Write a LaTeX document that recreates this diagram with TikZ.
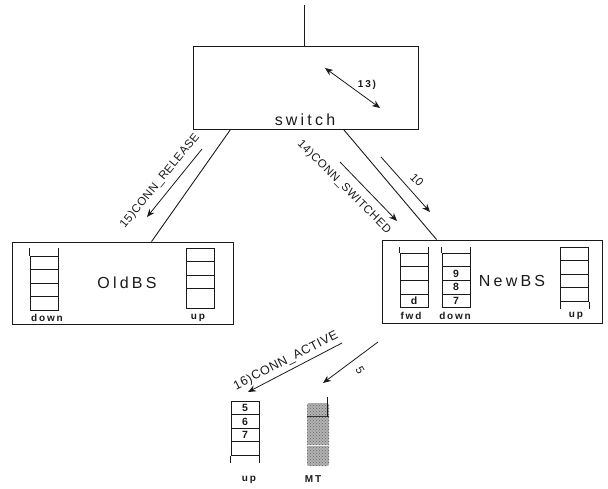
\documentclass[tikz,border=0pt]{standalone}
\usepackage{fontspec}
\setmainfont{Liberation Sans}
\newfontfamily\widefont[LetterSpace=20]{Liberation Sans}
\newfontfamily\tagfont[LetterSpace=18]{Liberation Sans}
\newfontfamily\msgfont[LetterSpace=5]{Liberation Sans}
\usetikzlibrary{arrows.meta, calc, patterns}
\definecolor{inkblack}{HTML}{1A1A1A}

\begin{document}
\begin{tikzpicture}[
  x=1pt, y=-1pt,
  color=inkblack,
  box/.style={rectangle, draw=inkblack, line width=0.9pt, inner sep=0pt},
  cell/.style={rectangle, draw=inkblack, line width=0.8pt, minimum width=28pt, minimum height=13.6pt, inner sep=0pt, font=\fontsize{10.5}{10.5}\selectfont\bfseries},
  rail/.style={draw=inkblack, line width=0.8pt},
  link/.style={draw=inkblack, line width=0.9pt},
  arr/.style={-{Stealth[length=8pt,width=6.5pt]}, line width=0.8pt, color=inkblack},
  title/.style={font=\fontsize{16}{16}\selectfont\widefont},
  tag/.style={font=\fontsize{10}{10}\selectfont\tagfont\bfseries, inner sep=0pt},
  msg/.style={font=\fontsize{11.5}{12}\selectfont\msgfont, inner sep=0pt},
]
\useasboundingbox (0,0) rectangle (608,488);

% --- switch ---
\node[box, minimum width=225pt, minimum height=83pt] (switch) at (305.5,87.5) {};
\node[title] (swname) at (305,120) {switch};
\coordinate (uplink) at (304,5);
\draw[link] (uplink) -- (uplink |- switch.north);
\coordinate (int1) at (325,68);
\coordinate (int2) at (380,108);
\draw[{Stealth[length=8pt,width=6.5pt]}-{Stealth[length=8pt,width=6.5pt]}, line width=0.8pt] (int1) -- (int2);
\node[tag] (int) at (367,85) {13)};

% --- base stations ---
\node[box, minimum width=221pt, minimum height=82pt] (oldbs) at (122.5,283) {};
\node[box, minimum width=220pt, minimum height=83pt] (newbs) at (492,281.5) {};
\node[title] (oldname) at (127,283) {OldBS};
\node[title] (newname) at (512,281) {NewBS};

% --- links ---
\draw[link] ([xshift=38pt]switch.south west) -- ([xshift=140pt]oldbs.north west);
\draw[link] ([xshift=151pt]switch.south west) -- ([xshift=55pt]newbs.north west);

% --- old queues ---
\foreach \y [count=\i] in {262.8,276.4,290,303.6} \node[cell] (olddown\i) at (44,\y) {};
\draw[rail] (olddown1.north west) -- ++(0,-8) (olddown1.north east) -- ++(0,-8);
\node[tag] (olddownlbl) at (47,318) {down};
\foreach \y/\h [count=\i] in {254.8/13.6,268.4/13.6,282/13.6,298.8/20} \node[cell, minimum height=\h pt] (oldup\i) at (200,\y) {};
\node[tag] (olduplbl) at (198,318) {up};

% --- new queues ---
\foreach \y/\t [count=\i] in {260/,273.6/,287.2/,300.8/d} \node[cell] (newfwd\i) at (414,\y) {\t};
\draw[rail] (newfwd1.north west) -- ++(0,-6) (newfwd1.north east) -- ++(0,-6);
\node[tag] (newfwdlbl) at (411,316) {fwd};
\foreach \y/\t [count=\i] in {260/,273.6/9,287.2/8,300.8/7} \node[cell] (newdown\i) at (456,\y) {\t};
\draw[rail] (newdown1.north west) -- ++(0,-6) (newdown1.north east) -- ++(0,-6);
\node[tag] (newdownlbl) at (455,316) {down};
\foreach \y [count=\i] in {253.8,267.4,281,294.6} \node[cell] (newup\i) at (574.5,\y) {};
\draw[rail] (newup4.south west) -- ++(0,7) (newup4.south east) -- ++(0,7);
\node[tag] (newuplbl) at (576,316) {up};

% --- mobile queue ---
\foreach \y/\t [count=\i] in {407.8/5,421.4/6,435/7,448.6/} \node[cell] (mtup\i) at (245,\y) {\t};
\draw[rail] (mtup4.south west) -- ++(0,7.5) (mtup4.south east) -- ++(0,7.5);
\node[tag] (mtuplbl) at (249,480) {up};

% --- phone ---
\node[rectangle, rounded corners=2pt, preaction={fill=gray!60}, pattern=crosshatch dots, pattern color=black!60, minimum width=22pt, minimum height=63pt, inner sep=0pt] (mt) at (318,434.5) {};
\draw[line width=1pt, color=gray!15] ([yshift=-43pt]mt.north west) -- ([yshift=-43pt]mt.north east);
\draw[line width=1pt, color=black!80] ([yshift=-14pt]mt.north west) -- ([yshift=-14pt]mt.north east);
\draw[line width=1.4pt] ([xshift=-2pt,yshift=-14pt]mt.north east) -- ++(0,-20);
\node[tag] (mtlbl) at (313,479) {MT};

% --- messages ---
\coordinate (rel1) at (202,149);
\coordinate (rel2) at (147,217);
\draw[arr] (rel1) -- (rel2);
\node[msg, rotate=50.6] (rellbl) at (160,181) {15)CONN\_RELEASE};
\coordinate (swd1) at (340,162);
\coordinate (swd2) at (397,221);
\draw[arr] (swd1) -- (swd2);
\node[msg, rotate=-45] (swdlbl) at (344,187) {14)CONN\_SWITCHED};
\coordinate (ten1) at (381,157);
\coordinate (ten2) at (430,212);
\draw[arr] (ten1) -- (ten2);
\node[msg, rotate=-45] (tenlbl) at (417,180) {10};
\coordinate (act1) at (342,343);
\coordinate (act2) at (248,392);
\draw[arr] (act1) -- (act2);
\node[msg, rotate=27, font=\fontsize{12.5}{13}\selectfont\msgfont] (actlbl) at (286,361) {16)CONN\_ACTIVE};
\coordinate (five1) at (378,342);
\coordinate (five2) at (323,383);
\draw[arr] (five1) -- (five2);
\node[msg, rotate=-60] (fivelbl) at (360,370) {5};
\end{tikzpicture}
\end{document}
